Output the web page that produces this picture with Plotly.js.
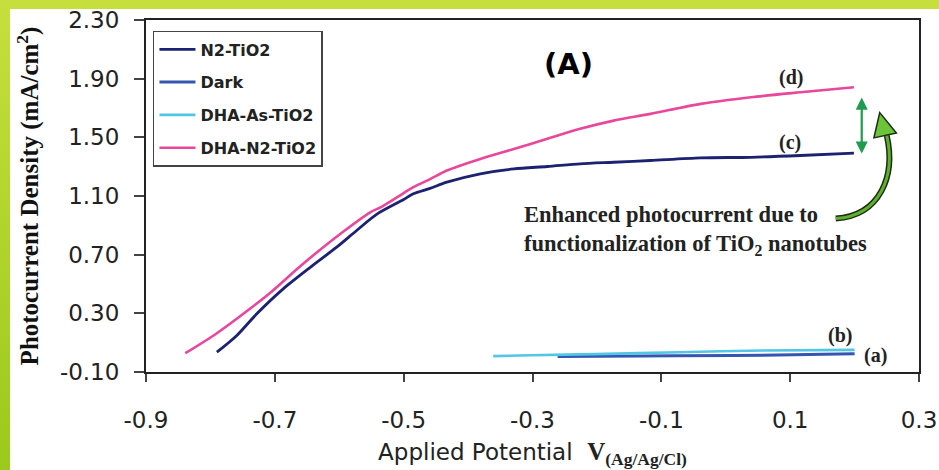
<!DOCTYPE html>
<html><head><meta charset="utf-8">
<script src="https://cdn.plot.ly/plotly-3.0.1.min.js"></script>
<style>
html,body{margin:0;padding:0;background:#fff;}
#wrap{position:relative;width:939px;height:470px;overflow:hidden;background:#fff;}
#topband{position:absolute;left:0;top:0;width:939px;height:9px;background:#c6df3c;}
#leftband{position:absolute;left:0;top:0;width:10px;height:470px;background:linear-gradient(#c6df3c,#9bc91c);}
#chart{position:absolute;left:0;top:0;width:939px;height:470px;}
</style></head><body>
<div id="wrap"><div id="topband"></div><div id="leftband"></div><div id="chart"></div></div>
<script>
// ---- data ----
const seriesNames = ["N2-TiO2", "Dark", "DHA-As-TiO2", "DHA-N2-TiO2"];

const n2TiO2_V = [-0.790, -0.759, -0.728, -0.687, -0.645, -0.604, -0.573, -0.541, -0.500, -0.485, -0.459, -0.433, -0.381, -0.329, -0.277, -0.226, -0.174, -0.117, -0.039, 0.039, 0.116, 0.199];
const n2TiO2_J = [0.035, 0.149, 0.297, 0.467, 0.614, 0.751, 0.865, 0.978, 1.076, 1.115, 1.152, 1.194, 1.251, 1.285, 1.301, 1.319, 1.330, 1.342, 1.360, 1.364, 1.376, 1.392];

const dark_V = [-0.261, -0.202, -0.080, 0.105, 0.200];
const dark_J = [0.006, 0.008, 0.010, 0.017, 0.024];

const dhaAs_V = [-0.361, -0.303, -0.202, -0.073, 0.057, 0.200];
const dhaAs_J = [0.008, 0.014, 0.022, 0.035, 0.047, 0.051];

const dhaN2_V = [-0.839, -0.795, -0.754, -0.707, -0.666, -0.635, -0.593, -0.552, -0.536, -0.510, -0.485, -0.459, -0.433, -0.381, -0.329, -0.277, -0.226, -0.174, -0.117, -0.039, 0.039, 0.116, 0.199];
const dhaN2_J = [0.028, 0.149, 0.280, 0.440, 0.600, 0.715, 0.860, 0.989, 1.023, 1.092, 1.160, 1.215, 1.274, 1.353, 1.421, 1.490, 1.558, 1.614, 1.660, 1.728, 1.773, 1.807, 1.841];

const xTicks = [-0.9, -0.7, -0.5, -0.3, -0.1, 0.1, 0.3];
const yTicks = [-0.10, 0.30, 0.70, 1.10, 1.50, 1.90, 2.30];

const colors = ["#1c2270", "#3556b0", "#52c6e4", "#e8479c"];

// ---- traces ----
const xs = [n2TiO2_V, dark_V, dhaAs_V, dhaN2_V];
const ys = [n2TiO2_J, dark_J, dhaAs_J, dhaN2_J];
const widths = [2.8, 3, 2.6, 2.6];
const traces = seriesNames.map((name, i) => ({
  type: "scatter", mode: "lines", name: name, legendgroup: "g" + i,
  x: xs[i], y: ys[i],
  line: {color: colors[i], width: widths[i], shape: "spline", smoothing: 0.8}
}));

const serif = "Liberation Serif, Times New Roman, serif";
const sans = "DejaVu Sans, Arial, sans-serif";

const X0 = -0.9, X1 = 0.3, Y0 = -0.1, Y1 = 2.3;

const layout = {
  width: 939, height: 470,
  margin: {l: 146, r: 20, t: 20, b: 98, pad: 0},
  paper_bgcolor: "rgba(0,0,0,0)",
  plot_bgcolor: "#ffffff",
  showlegend: true,
  legend: {
    x: 0.009, y: 0.969, xanchor: "left", yanchor: "top",
    bordercolor: "#444", borderwidth: 1.5, bgcolor: "#ffffff",
    font: {family: sans, size: 16, color: "#222", weight: "bold"},
    tracegroupgap: 9, itemwidth: 36
  },
  xaxis: {
    range: [X0, X1], tickvals: xTicks, ticktext: xTicks.map(v => v.toFixed(1)),
    showgrid: false, zeroline: false,
    showline: true, mirror: true, linecolor: "#222", linewidth: 2,
    ticks: "outside", ticklen: 8, tickwidth: 2, tickcolor: "#444",
    ticklabelstandoff: 18,
    tickfont: {family: sans, size: 23, color: "#222"},
    title: {
      text: "Applied Potential  <span style=\"font-family:'Liberation Serif';font-weight:bold;font-size:25px\">V<sub>(Ag/Ag/Cl)</sub></span>",
      font: {family: sans, size: 23, color: "#222"}, standoff: 12
    }
  },
  yaxis: {
    range: [Y0, Y1], tickvals: yTicks, ticktext: yTicks.map(v => v.toFixed(2)),
    showgrid: false, zeroline: false,
    showline: true, mirror: true, linecolor: "#222", linewidth: 2,
    ticks: "outside", ticklen: 10, tickwidth: 2, tickcolor: "#444",
    ticklabelstandoff: 10,
    tickfont: {family: sans, size: 23, color: "#222"},
    title: {
      text: "<b>Photocurrent Density (mA/cm<sup>2</sup>)</b>",
      font: {family: serif, size: 25, color: "#111"}, standoff: 14
    }
  },
  annotations: [
    {x: -0.2442, y: 2.003, xref: "x", yref: "y", text: "<b>(A)</b>", showarrow: false,
     font: {family: sans, size: 29, color: "#000"}},
    {x: 0.1008, y: 1.9075, xref: "x", yref: "y", text: "<b>(d)</b>", showarrow: false,
     font: {family: serif, size: 20, color: "#222"}},
    {x: 0.0992, y: 1.4643, xref: "x", yref: "y", text: "<b>(c)</b>", showarrow: false,
     font: {family: serif, size: 20, color: "#222"}},
    {x: 0.1769, y: 0.1488, xref: "x", yref: "y", text: "<b>(b)</b>", showarrow: false,
     font: {family: serif, size: 20, color: "#222"}},
    {x: 0.2329, y: 0.0125, xref: "x", yref: "y", text: "<b>(a)</b>", showarrow: false,
     font: {family: serif, size: 20, color: "#222"}},
    {x: -0.3157, y: 0.868, xref: "x", yref: "y", xanchor: "left", align: "left",
     text: "<b>Enhanced photocurrent due to<br>functionalization of TiO<sub>2</sub> nanotubes</b>",
     showarrow: false, font: {family: serif, size: 22.5, color: "#222"}},
    // green double-headed arrow between (c) and (d)
    {x: 0.2111, y: 1.389, ax: 0.2111, ay: 1.839, xref: "x", yref: "y", axref: "x", ayref: "y",
     text: " ", showarrow: true, arrowside: "end+start", arrowhead: 2, arrowsize: 1.1,
     arrowwidth: 2.2, arrowcolor: "#1f9a4e"}
  ],
  shapes: [
    // curved arrow stem (dark outline then green)
    {type: "path", xref: "x", yref: "y",
     path: "M 0.1707 0.9464 C 0.2406 0.9668, 0.2639 1.2395, 0.2500 1.5121",
     line: {color: "#1d2d12", width: 6}},
    {type: "path", xref: "x", yref: "y",
     path: "M 0.1707 0.9464 C 0.2406 0.9668, 0.2639 1.2395, 0.2500 1.5121",
     line: {color: "#5db030", width: 3}},
    // arrow head
    {type: "path", xref: "x", yref: "y",
     path: "M 0.2390 1.6690 L 0.2300 1.4962 L 0.2649 1.5290 Z",
     fillcolor: "#6cc43a", line: {color: "#1d2d12", width: 1.5}}
  ]
};

Plotly.newPlot("chart", traces, layout, {displayModeBar: false, staticPlot: true});
</script>
</body></html>
